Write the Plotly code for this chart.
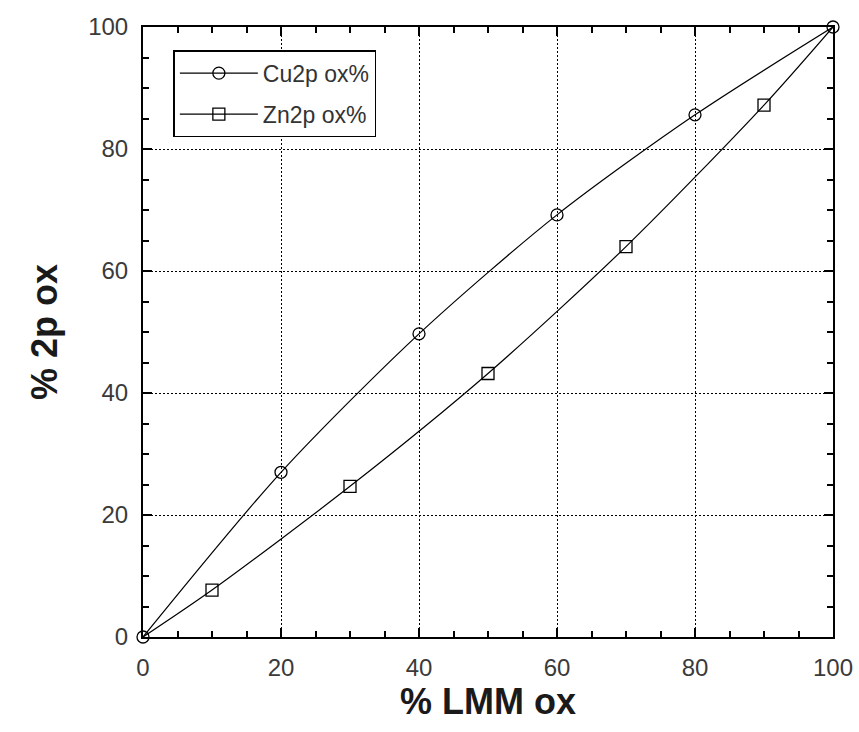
import plotly.graph_objects as go

cu_x = [0, 20, 40, 60, 80, 100]
cu_y = [0, 27, 49.7, 69.2, 85.6, 100]
zn_x = [0, 10, 30, 50, 70, 90, 100]
zn_y = [0, 7.7, 24.7, 43.2, 64, 87.2, 100]
zn_marker_x = [10, 30, 50, 70, 90]
zn_marker_y = [7.7, 24.7, 43.2, 64, 87.2]
ticks = [0, 20, 40, 60, 80, 100]

fig = go.Figure()
line_style = dict(color="black", width=1.2, shape="spline", smoothing=0.8)
mk = dict(size=12, color="black", line=dict(width=1.3))
fig.add_trace(go.Scatter(x=cu_x, y=cu_y, mode="lines", line=line_style, showlegend=False))
fig.add_trace(go.Scatter(x=zn_x, y=zn_y, mode="lines", line=line_style, showlegend=False))
fig.add_trace(go.Scatter(x=cu_x, y=cu_y, mode="markers", showlegend=False, cliponaxis=False,
                         marker=dict(symbol="circle-open", **mk)))
fig.add_trace(go.Scatter(x=zn_marker_x, y=zn_marker_y, mode="markers", showlegend=False,
                         cliponaxis=False, marker=dict(symbol="square-open", **mk)))
fig.add_trace(go.Scatter(x=[None], y=[None], mode="lines+markers", name="Cu2p ox%",
                         legendgroup="cu", line=dict(color="black", width=1.2),
                         marker=dict(symbol="circle-open", **mk)))
fig.add_trace(go.Scatter(x=[None], y=[None], mode="lines+markers", name="Zn2p ox%",
                         legendgroup="zn", line=dict(color="black", width=1.2),
                         marker=dict(symbol="square-open", **mk)))

axis_common = dict(
    range=[0, 100], tickvals=ticks, ticks="inside", ticklen=9, tickwidth=2, tickcolor="black",
    showline=True, linecolor="black", linewidth=2, mirror="allticks",
    showgrid=True, gridcolor="black", gridwidth=1, griddash="2px,2px",
    zeroline=False, automargin=False, ticklabelstandoff=8,
    tickfont=dict(family="Liberation Sans, Arial", size=24, color="#3a3a3a"),
    minor=dict(dtick=5, ticks="inside", ticklen=6, tickwidth=1.5, tickcolor="black", showgrid=False),
)

fig.update_layout(
    width=859, height=732,
    margin=dict(l=143, r=26, t=27, b=95),
    paper_bgcolor="white", plot_bgcolor="white",
    xaxis=dict(**axis_common, title=dict(text="% LMM ox", standoff=2,
               font=dict(family="Liberation Sans, Arial", size=36, color="#1a1a1a", weight="bold"))),
    yaxis=dict(**axis_common, title=dict(text="% 2p ox", standoff=20,
               font=dict(family="Liberation Sans, Arial", size=36, color="#1a1a1a", weight="bold"))),
    legend=dict(x=0.044, y=0.962, xanchor="left", yanchor="top",
                bgcolor="white", bordercolor="black", borderwidth=1.5,
                font=dict(family="Liberation Sans, Arial", size=23, color="#333333"),
                itemwidth=78, tracegroupgap=8),
)

fig.write_html("out.html")
